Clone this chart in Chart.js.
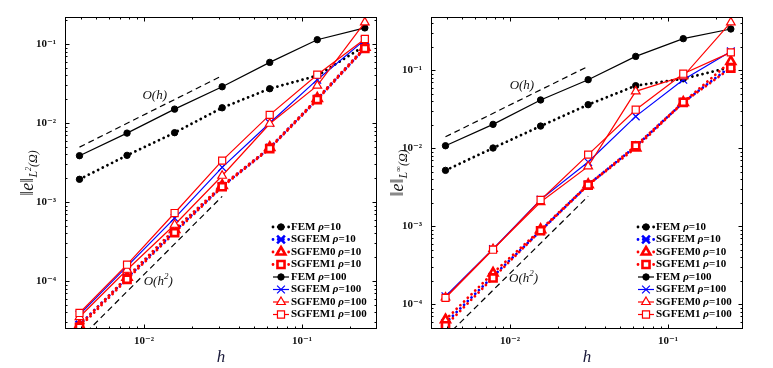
<!DOCTYPE html>
<html>
<head>
<meta charset="utf-8">
<script src="https://cdn.jsdelivr.net/npm/chart.js@4.4.1/dist/chart.umd.min.js"></script>
<style>
  body { margin: 0; background: #fff; }
  .panel { position: absolute; top: 0; }
</style>
</head>
<body>
<div class="panel" style="left:0"><canvas id="chartL2" width="386" height="368"></canvas></div>
<div class="panel" style="left:386px"><canvas id="chartLinf" width="387" height="368"></canvas></div>
<script>
// mesh sizes h = 1/256 ... 1/4
const h = [1/256, 1/128, 1/64, 1/32, 1/16, 1/8, 1/4];
const refH = [1/256, 1/32];

const methods = ['FEM', 'SGFEM', 'SGFEM0', 'SGFEM1'];
const rhos = ['10', '100'];

// left panel: L2 error
const l2Fem10    = [0.00194, 0.0039, 0.00755, 0.0156, 0.0272, 0.0398, 0.095];
const l2Sg10     = [2.8e-5, 1.09e-4, 4.26e-4, 1.58e-3, 4.83e-3, 0.0201, 0.089];
const l2Sg0_10   = [2.75e-5, 1.12e-4, 4.5e-4, 1.62e-3, 4.9e-3, 0.0205, 0.091];
const l2Sg1_10   = [2.6e-5, 1.05e-4, 4.1e-4, 1.56e-3, 4.75e-3, 0.0198, 0.088];
const l2Fem100   = [0.00386, 0.00746, 0.0150, 0.0288, 0.0586, 0.1135, 0.160];
const l2Sg100    = [3.75e-5, 1.53e-4, 6.26e-4, 2.75e-3, 0.0100, 0.0354, 0.113];
const l2Sg0_100  = [3.5e-5, 1.39e-4, 5.16e-4, 2.15e-3, 0.0098, 0.0297, 0.188];
const l2Sg1_100  = [3.94e-5, 1.61e-4, 7.26e-4, 3.34e-3, 0.0127, 0.0409, 0.116];
const l2OrderH   = [0.00496, 0.0397];
const l2OrderH2  = [1.84e-5, 1.18e-3];

// right panel: Linf error
const liFem10    = [0.00522, 0.0101, 0.0193, 0.0363, 0.0636, 0.078, 0.11];
const liSg10     = [5.77e-5, 2.29e-4, 8.79e-4, 3.42e-3, 0.0106, 0.0389, 0.112];
const liSg0_10   = [6.35e-5, 2.52e-4, 9.06e-4, 3.42e-3, 0.0101, 0.0389, 0.130];
const liSg1_10   = [5.32e-5, 2.18e-4, 8.79e-4, 3.38e-3, 0.0108, 0.0389, 0.107];
const liFem100   = [0.0108, 0.0203, 0.0417, 0.0759, 0.151, 0.255, 0.339];
const liSg100    = [1.27e-4, 5.12e-4, 2.20e-3, 6.68e-3, 0.0257, 0.0759, 0.175];
const liSg0_100  = [1.23e-4, 5.12e-4, 2.05e-3, 5.87e-3, 0.0538, 0.0838, 0.412];
const liSg1_100  = [1.21e-4, 5.02e-4, 2.18e-3, 8.30e-3, 0.0313, 0.0906, 0.170];
const liOrderH   = [0.01406, 0.1125];
const liOrderH2  = [3.8e-5, 2.43e-3];

const SERIF = '"Liberation Serif", "DejaVu Serif", serif';
const toPts = (xs, ys) => xs.map((x, i) => ({x: x, y: ys[i]}));

// styles per legend row (method x rho)
const styles = [
  {color: '#000000', marker: 'circle',   r: 3.2, fill: '#000000'},
  {color: '#0000ff', marker: 'crossRot', r: 5.5, fill: '#0000ff'},
  {color: '#ff0000', marker: 'triangle', r: 5,   fill: '#ffffff'},
  {color: '#ff0000', marker: 'rect',     r: 5,   fill: '#ffffff'}
];

function makeDatasets(series, orderH, orderH2) {
  const sets = [];
  series.forEach((vals, i) => {
    const m = i % 4, dotted = i < 4, st = styles[m];
    sets.push({
      label: methods[m] + ' \u03c1=' + rhos[dotted ? 0 : 1],
      legendRow: true,
      data: toPts(h, vals),
      borderColor: st.color,
      borderWidth: dotted ? 2.8 : 1.2,
      borderDash: dotted ? [0.01, 5.2] : [],
      borderCapStyle: dotted ? 'round' : 'butt',
      pointStyle: st.marker,
      pointRadius: st.r,
      pointBorderColor: st.color,
      pointBackgroundColor: st.fill,
      pointBorderWidth: m === 0 ? 1 : (dotted ? 2.6 : 1.2),
      order: 20 - i,
      tension: 0
    });
  });
  [orderH, orderH2].forEach(vals => {
    sets.push({
      label: 'ref',
      data: toPts(refH, vals),
      borderColor: '#000000',
      borderWidth: 1.2,
      borderDash: [6, 4],
      pointRadius: 0,
      order: 30
    });
  });
  return sets;
}

function drawMarker(ctx, ds, x, y) {
  const r = ds.pointRadius;
  ctx.save();
  ctx.setLineDash([]);
  ctx.lineWidth = ds.pointBorderWidth;
  ctx.strokeStyle = ds.pointBorderColor;
  ctx.fillStyle = ds.pointBackgroundColor;
  ctx.beginPath();
  if (ds.pointStyle === 'circle') {
    ctx.arc(x, y, r, 0, Math.PI * 2);
    ctx.fill();
  } else if (ds.pointStyle === 'triangle') {
    for (let k = 0; k < 3; k++) {
      const a = k * 2 * Math.PI / 3;
      const px = x + Math.sin(a) * r, py = y - Math.cos(a) * r;
      k ? ctx.lineTo(px, py) : ctx.moveTo(px, py);
    }
    ctx.closePath();
    ctx.fill();
  } else if (ds.pointStyle === 'rect') {
    const s = r * Math.SQRT1_2;
    ctx.rect(x - s, y - s, 2 * s, 2 * s);
    ctx.fill();
  } else if (ds.pointStyle === 'crossRot') {
    const d = r * Math.SQRT1_2;
    ctx.moveTo(x - d, y - d); ctx.lineTo(x + d, y + d);
    ctx.moveTo(x - d, y + d); ctx.lineTo(x + d, y - d);
  }
  ctx.stroke();
  ctx.restore();
}

// box, inward ticks, legend, y title and O(h) notes
const decorPlugin = {
  id: 'decor',
  afterDraw(chart, args, opts) {
    const ctx = chart.ctx, a = chart.chartArea;
    const xs = chart.scales.x, ys = chart.scales.y;
    ctx.save();
    ctx.strokeStyle = '#000';
    ctx.lineWidth = 1;
    ctx.strokeRect(a.left + 0.5, a.top + 0.5, a.right - a.left - 1, a.bottom - a.top - 1);

    const tickLen = v => {
      const e = Math.floor(Math.log10(v) + 1e-9);
      const m = v / Math.pow(10, e);
      if (Math.abs(m - Math.round(m)) > 1e-6) return 0;
      return Math.round(m) === 1 ? 4.5 : 2.5;
    };
    ctx.beginPath();
    xs.ticks.forEach(t => {
      const len = tickLen(t.value);
      if (!len) return;
      const px = Math.round(xs.getPixelForValue(t.value)) + 0.5;
      ctx.moveTo(px, a.bottom); ctx.lineTo(px, a.bottom - len);
      ctx.moveTo(px, a.top); ctx.lineTo(px, a.top + len);
    });
    ys.ticks.forEach(t => {
      const len = tickLen(t.value);
      if (!len) return;
      const py = Math.round(ys.getPixelForValue(t.value)) + 0.5;
      ctx.moveTo(a.left, py); ctx.lineTo(a.left + len, py);
      ctx.moveTo(a.right, py); ctx.lineTo(a.right - len, py);
    });
    ctx.stroke();

    // order-of-convergence notes
    ctx.fillStyle = '#111';
    ctx.textBaseline = 'middle';
    opts.notes.forEach(n => {
      const px = xs.getPixelForValue(n.x), py = ys.getPixelForValue(n.y);
      ctx.font = 'italic 13px ' + SERIF;
      const w1 = ctx.measureText('O(h').width;
      const sup = n.sup || '';
      ctx.font = 'italic 9px ' + SERIF;
      const w2 = ctx.measureText(sup).width;
      ctx.font = 'italic 13px ' + SERIF;
      const w3 = ctx.measureText(')').width;
      let cx = px - (w1 + w2 + w3) / 2;
      ctx.textAlign = 'left';
      ctx.fillText('O(h', cx, py); cx += w1;
      ctx.font = 'italic 9px ' + SERIF;
      ctx.fillText(sup, cx, py - 5); cx += w2;
      ctx.font = 'italic 13px ' + SERIF;
      ctx.fillText(')', cx, py);
    });

    // legend
    const x0 = a.right - opts.legendOffset;
    let y = a.top + 210;
    chart.data.datasets.filter(d => d.legendRow).forEach(ds => {
      ctx.save();
      ctx.strokeStyle = ds.borderColor;
      ctx.lineWidth = ds.borderWidth;
      ctx.setLineDash(ds.borderDash);
      ctx.lineCap = ds.borderCapStyle;
      ctx.beginPath();
      ctx.moveTo(x0, y); ctx.lineTo(x0 + 16, y);
      ctx.stroke();
      ctx.restore();
      drawMarker(ctx, ds, x0 + 8, y);
      const parts = ds.label.split(' \u03c1');
      let tx = x0 + 18;
      ctx.fillStyle = '#000';
      ctx.textAlign = 'left';
      ctx.font = 'bold 11px ' + SERIF;
      ctx.fillText(parts[0] + ' ', tx, y); tx += ctx.measureText(parts[0] + ' ').width;
      ctx.font = 'bold italic 11px ' + SERIF;
      ctx.fillText('\u03c1', tx, y); tx += ctx.measureText('\u03c1').width;
      ctx.font = 'bold 11px ' + SERIF;
      ctx.fillText(parts[1], tx, y);
      y += 12.5;
    });

    // y axis title  ||e||_{L..(Omega)}
    ctx.translate(opts.titleX, (a.top + a.bottom) / 2);
    ctx.rotate(-Math.PI / 2);
    ctx.fillStyle = '#111';
    ctx.textAlign = 'left';
    const big = '18px ' + SERIF, bigI = 'italic 18px ' + SERIF, small = 'italic 12px ' + SERIF;
    const segs = [
      {t: '\u2016', f: big, dy: 0}, {t: 'e', f: bigI, dy: 0}, {t: '\u2016', f: big, dy: 0},
      {t: 'L', f: small, dy: 6}, {t: opts.subSup, f: 'italic 8px ' + SERIF, dy: 1}, {t: '(\u03a9)', f: small, dy: 6}
    ];
    let total = 0;
    segs.forEach(s => { ctx.font = s.f; s.w = ctx.measureText(s.t).width; total += s.w; });
    let cx = -total / 2;
    segs.forEach(s => { ctx.font = s.f; ctx.fillText(s.t, cx, s.dy); cx += s.w; });
    ctx.restore();
  }
};

const supMap = {'-': '\u207b', '0': '\u2070', '1': '\u00b9', '2': '\u00b2', '3': '\u00b3',
  '4': '\u2074', '5': '\u2075', '6': '\u2076', '7': '\u2077', '8': '\u2078', '9': '\u2079'};
function powLabel(v) {
  const e = Math.log10(v);
  if (Math.abs(e - Math.round(e)) > 1e-6) return '';
  return '10' + String(Math.round(e)).split('').map(c => supMap[c]).join('');
}

function makeChart(id, series, orderH, orderH2, o) {
  return new Chart(document.getElementById(id).getContext('2d'), {
    type: 'line',
    data: { datasets: makeDatasets(series, orderH, orderH2) },
    options: {
      responsive: false,
      animation: false,
      layout: { padding: { top: 17, right: o.padRight, bottom: 0, left: 0 } },
      plugins: {
        legend: { display: false },
        tooltip: { enabled: false },
        decor: { legendOffset: o.legendOffset, titleX: o.titleX, subSup: o.subSup, notes: o.notes }
      },
      scales: {
        x: {
          type: 'logarithmic',
          min: Math.pow(10, -2.5), max: Math.pow(10, -0.525),
          grid: { display: false, drawTicks: false },
          border: { display: false },
          ticks: { autoSkip: false, maxRotation: 0, padding: 6, color: '#111',
                   font: { family: SERIF, size: 11, weight: 'bold' }, callback: v => powLabel(v) },
          title: { display: true, text: 'h', color: '#1a1a3a', padding: { top: 0, bottom: 0 },
                   font: { family: SERIF, size: 17, style: 'italic' } },
          afterFit: s => { s.height = 39; }
        },
        y: {
          type: 'logarithmic',
          min: o.yMin, max: o.yMax,
          grid: { display: false, drawTicks: false },
          border: { display: false },
          ticks: { autoSkip: false, padding: 9, color: '#111',
                   font: { family: SERIF, size: 11, weight: 'bold' }, callback: v => powLabel(v) },
          afterFit: s => { s.width = o.yWidth; }
        }
      }
    },
    plugins: [decorPlugin]
  });
}

makeChart('chartL2',
  [l2Fem10, l2Sg10, l2Sg0_10, l2Sg1_10, l2Fem100, l2Sg100, l2Sg0_100, l2Sg1_100],
  l2OrderH, l2OrderH2,
  { padRight: 9, yWidth: 65, yMin: 2.47e-5, yMax: 0.22, legendOffset: 104, titleX: 28, subSup: '2',
    notes: [{x: 0.0117, y: 0.0222}, {x: 0.0123, y: 9.8e-5, sup: '2'}] });

makeChart('chartLinf',
  [liFem10, liSg10, liSg0_10, liSg1_10, liFem100, liSg100, liSg0_100, liSg1_100],
  liOrderH, liOrderH2,
  { padRight: 30, yWidth: 45, yMin: 4.83e-5, yMax: 0.483, legendOffset: 105, titleX: 12, subSup: '\u221e',
    notes: [{x: 0.0119, y: 0.0637}, {x: 0.0122, y: 2.14e-4, sup: '2'}] });
</script>
</body>
</html>
